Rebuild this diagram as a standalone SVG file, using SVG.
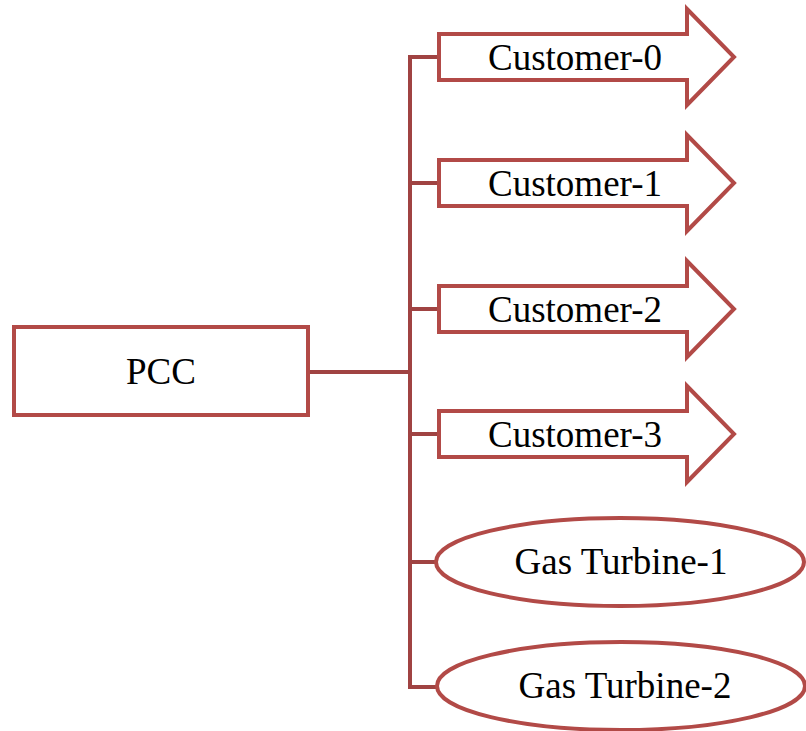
<svg xmlns="http://www.w3.org/2000/svg" width="806" height="731" viewBox="0 0 806 731">
  <defs>
    <style>
      .shape { fill: #ffffff; stroke: #b24a47; stroke-width: 4; stroke-linejoin: miter; }
      .wire { fill: none; stroke: #a04342; stroke-width: 4; stroke-linejoin: miter; }
      .label { font-family: 'Liberation Serif', 'Times New Roman', Times, 'DejaVu Serif', serif; font-size: 37px; fill: #000000; text-anchor: middle; }
    </style>
    <!-- block arrow outline, centred on y = 0 -->
    <path id="blockArrow" d="M439,-23 H687 V-48 L734,0 L687,48 V23 H439 Z"/>
  </defs>

  <!-- bus connectors -->
  <g id="connectors">
    <path class="wire" d="M308,372 H410"/>
    <path class="wire" d="M439,57 H410 V687 H437"/>
    <path class="wire" d="M410,183 H439"/>
    <path class="wire" d="M410,309 H439"/>
    <path class="wire" d="M410,434 H439"/>
    <path class="wire" d="M410,562 H437"/>
  </g>

  <g id="pcc">
    <rect class="shape" x="14" y="327" width="294" height="88"/>
    <text class="label" x="161" y="384">PCC</text>
  </g>

  <g id="customer-0">
    <use href="#blockArrow" class="shape" transform="translate(0,57)"/>
    <text class="label" x="575" y="70">Customer-0</text>
  </g>

  <g id="customer-1">
    <use href="#blockArrow" class="shape" transform="translate(0,183)"/>
    <text class="label" x="575" y="196">Customer-1</text>
  </g>

  <g id="customer-2">
    <use href="#blockArrow" class="shape" transform="translate(0,309)"/>
    <text class="label" x="575" y="322">Customer-2</text>
  </g>

  <g id="customer-3">
    <use href="#blockArrow" class="shape" transform="translate(0,434)"/>
    <text class="label" x="575" y="447">Customer-3</text>
  </g>

  <g id="gas-turbine-1">
    <ellipse class="shape" cx="620" cy="562" rx="184" ry="44"/>
    <text class="label" x="621" y="574">Gas Turbine-1</text>
  </g>

  <g id="gas-turbine-2">
    <ellipse class="shape" cx="621" cy="686" rx="184" ry="44"/>
    <text class="label" x="625" y="698">Gas Turbine-2</text>
  </g>
</svg>
